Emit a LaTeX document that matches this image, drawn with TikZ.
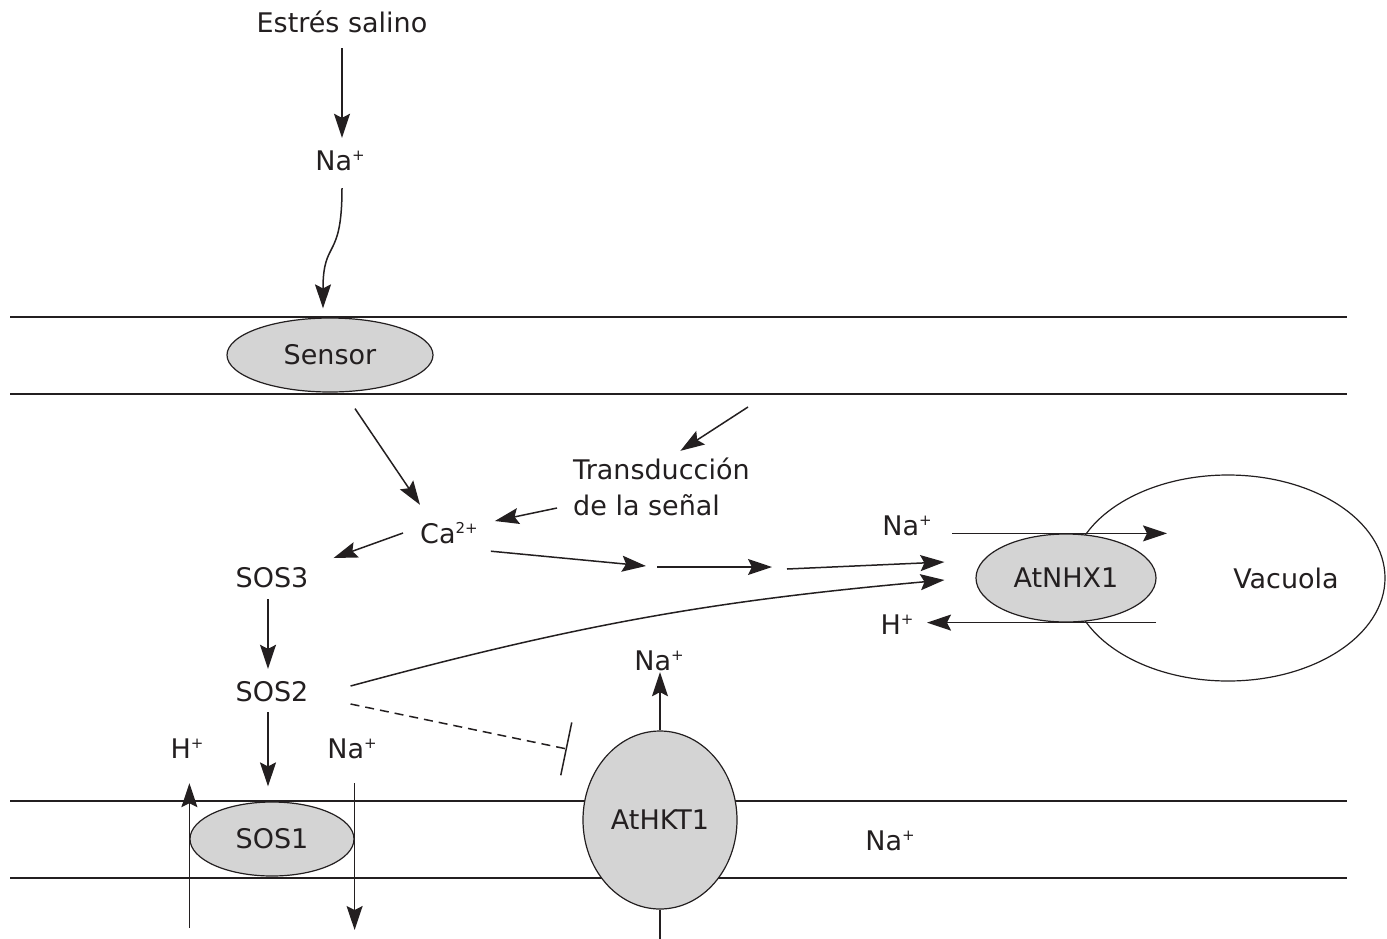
\documentclass[tikz,border=0pt]{standalone}
\usepackage{fontspec}
\setmainfont{DejaVu Sans}
\usetikzlibrary{arrows.meta,shapes.geometric}
\definecolor{ink}{HTML}{231F20}
\definecolor{protgray}{HTML}{D4D4D4}
\newcommand\ionup[1]{\raisebox{10pt}{\fontsize{15}{15}\selectfont #1}}
\begin{document}
\begin{tikzpicture}[x=1pt,y=-1pt,
  lbl/.style={inner sep=0pt, text height=20pt, text depth=0pt, font=\fontsize{27}{32}\selectfont, text=ink},
  prot/.style={ellipse, draw=ink, line width=1.2pt, fill=protgray, inner sep=0pt, font=\fontsize{27}{32}\selectfont, text=ink},
  arr/.style={draw=ink, line width=1.5pt, -{Stealth[length=24pt,width=16pt,inset=4pt]}},
  inh/.style={draw=ink, line width=1.5pt, dash pattern=on 9pt off 6pt, -{Bar[width=54pt]}},
  memb/.style={draw=ink, line width=1.5pt}]
\useasboundingbox (0,0) rectangle (1387,938);

% membranes
\draw[memb] (10,317) -- (1347,317);
\draw[memb] (10,394) -- (1347,394);
\draw[memb] (10,801) -- (1347,801);
\draw[memb] (10,878) -- (1347,878);

% vacuole
\node[ellipse, draw=ink, line width=1.2pt, fill=white, minimum width=314pt, minimum height=206pt, inner sep=0pt] (vac) at (1228,578) {};

% proteins
\node[prot, minimum width=206pt, minimum height=74pt] (sensor) at (330,355) {Sensor};
\node[prot, minimum width=180pt, minimum height=88pt] (nhx) at (1066,578) {AtNHX1};
\node[prot, minimum width=164pt, minimum height=74pt] (sos1) at (272,839) {SOS1};
\node[prot, minimum width=154pt, minimum height=178pt] (hkt) at (660,820) {AtHKT1};

% labels
\node[lbl] (estres) at (342,22) {Estrés salino};
\node[lbl] (na1) at (340,160) {Na\ionup{+}};
\node[lbl, anchor=west] (trans) at (573,469) {Transducción};
\node[lbl, anchor=west] (trans2) at (573,505) {de la señal};
\node[lbl, anchor=west] (ca) at (420,533) {Ca\ionup{2+}};
\node[lbl] (sos3) at (272,577) {SOS3};
\node[lbl] (sos2) at (272,691) {SOS2};
\node[lbl] (hp) at (187,748) {H\ionup{+}};
\node[lbl] (na3) at (352,748) {Na\ionup{+}};
\node[lbl] (na4) at (659,660) {Na\ionup{+}};
\node[lbl] (na5) at (907,525) {Na\ionup{+}};
\node[lbl] (hp2) at (897,624) {H\ionup{+}};
\node[lbl] (vaclbl) at (1286,578) {Vacuola};
\node[lbl] (na6) at (890,840) {Na\ionup{+}};

% free ends
\coordinate (tin) at (748,407);
\coordinate (k1) at (646,566);
\coordinate (k2) at (657,567);
\coordinate (k3) at (772,567);
\coordinate (k4) at (787,569);
\coordinate (inhend) at (567,749);

% connectors
\draw[arr, shorten <=16pt, shorten >=12pt] (estres.south) -- (estres.south |- na1.north);
\draw[arr] ([xshift=2pt,yshift=-18pt]na1.south) .. controls (342,262) and (323,238) .. ([xshift=-7pt,yshift=9pt]sensor.north);
\draw[arr] ([xshift=25pt,yshift=-16pt]sensor.south) -- ([yshift=18pt]ca.north west);
\draw[arr] (tin) -- ([xshift=19pt,yshift=8pt]trans.north);
\draw[arr] ([xshift=-16pt,yshift=-3pt]trans2.west) -- ([xshift=17pt,yshift=12pt]ca.east);
\draw[arr] ([xshift=-17pt]ca.west) -- ([xshift=25pt,yshift=19pt]sos3.east);
\draw[arr] ([xshift=13pt,yshift=-8pt]ca.south east) -- (k1);
\draw[arr] (k2) -- (k3);
\draw[arr] (k4) -- ([xshift=-31pt,yshift=16pt]nhx.west);
\draw[arr] ([xshift=42pt,yshift=5pt]sos2.east) to[bend left=5] ([xshift=-31pt,yshift=-2pt]nhx.west);
\draw[arr, shorten <=12pt, shorten >=12pt] ([xshift=-4pt]sos3.south) -- ([xshift=-4pt]sos2.north);
\draw[arr, shorten <=11pt] ([xshift=-4pt]sos2.south) -- ([xshift=-4pt,yshift=15pt]sos1.north);
\draw[inh] ([xshift=42pt,yshift=-13pt]sos2.east) -- (inhend);
\draw[arr, shorten >=25pt] ([yshift=-89pt]sos1.west) -- (sos1.west |- hp.south);
\draw[arr, shorten <=25pt] (sos1.east |- na3.south) -- ([yshift=-91pt]sos1.east);
\draw[arr, shorten >=2pt] (hkt.north) -- (hkt.north |- na4.south);
\draw[memb] (hkt.south) -- ++(0,30);
\draw[arr] ([xshift=-114pt]nhx.north) -- ([xshift=101pt]nhx.north);
\draw[arr] ([xshift=90pt]nhx.south) -- ([xshift=-139pt]nhx.south);
\end{tikzpicture}
\end{document}
